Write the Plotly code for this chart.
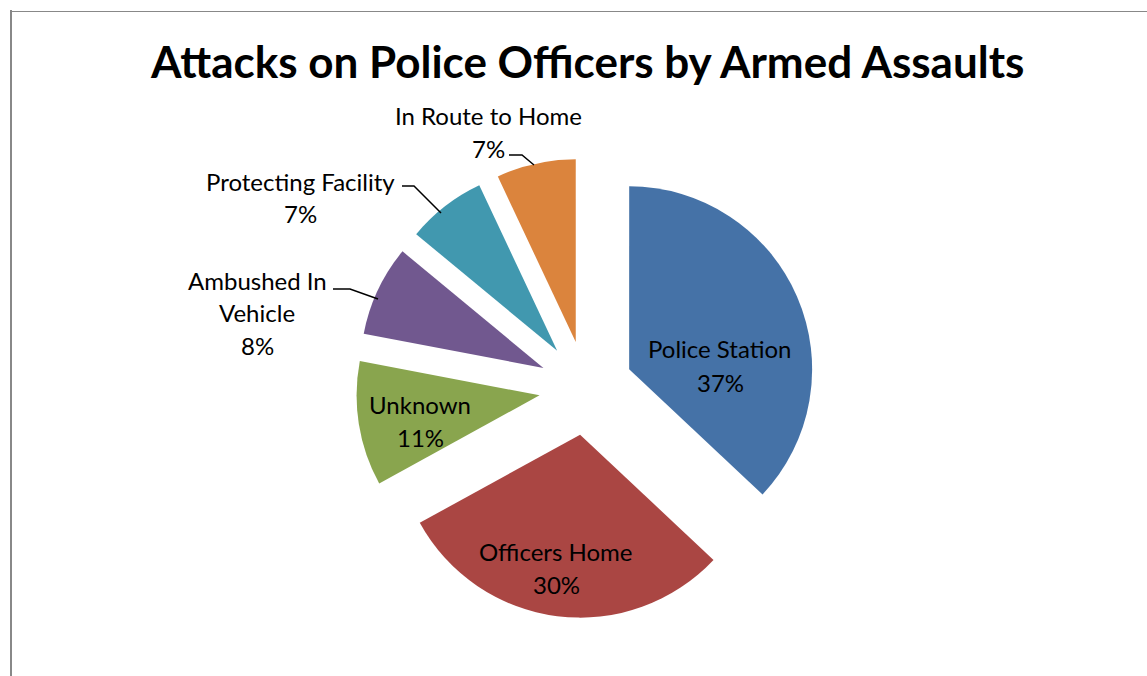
import plotly.graph_objects as go

W, H = 1147, 676

categories = ["Police Station", "Officers Home", "Unknown", "Ambushed In Vehicle",
              "Protecting Facility", "In Route to Home"]
values = [37, 30, 11, 8, 7, 7]
colors = ["#4572A7", "#AA4643", "#89A54E", "#71588F", "#4198AF", "#DB843D"]
title_text = "Attacks on Police Officers by Armed Assaults"

# label lines (text, center x px, center y px)
label_lines = [
    ("Police Station", 720, 348), ("37%", 720, 382),
    ("Officers Home", 556, 551), ("30%", 556, 584),
    ("Unknown", 420, 404), ("11%", 420, 437),
    ("Ambushed In", 257, 280), ("Vehicle", 257, 312), ("8%", 257, 346),
    ("Protecting Facility", 300, 182), ("7%", 300, 213),
    ("In Route to Home", 488, 116), ("7%", 488, 148),
]
leaders = [
    [(509, 155), (522, 155), (534, 165)],
    [(402, 186), (414, 186), (441, 213)],
    [(333, 289), (350, 289), (378, 299)],
]


def px(x):
    return x / W


def py(y):
    return 1 - y / H


fig = go.Figure(go.Pie(
    labels=categories, values=values, sort=False, direction="clockwise",
    rotation=0, pull=[0.257] * len(values),
    marker=dict(colors=colors, line=dict(width=0)),
    textinfo="none", hoverinfo="label+percent", showlegend=False,
    domain=dict(x=[px(356), px(816)], y=[py(618), py(158)]),
))

annotations = [dict(text="<b>" + title_text + "</b>", x=px(587), y=py(61),
                    xref="paper", yref="paper", showarrow=False,
                    font=dict(family="Lato", size=44, color="black"),
                    xanchor="center", yanchor="middle")]
for t, x, y in label_lines:
    annotations.append(dict(text=t, x=px(x), y=py(y), xref="paper", yref="paper",
                            showarrow=False, xanchor="center", yanchor="middle",
                            font=dict(family="Lato", size=24, color="black")))

shapes = []
for pts in leaders:
    path = "M " + " L ".join(f"{px(x)},{py(y)}" for x, y in pts)
    shapes.append(dict(type="path", path=path, xref="paper", yref="paper",
                       line=dict(color="black", width=1.5)))
# chart border (top and left visible)
shapes.append(dict(type="line", xref="paper", yref="paper", x0=px(11), x1=px(11),
                   y0=py(10), y1=py(H + 5), line=dict(color="#888888", width=2)))
shapes.append(dict(type="line", xref="paper", yref="paper", x0=px(10), x1=px(W + 5),
                   y0=py(11.5), y1=py(11.5), line=dict(color="#888888", width=1)))

fig.update_layout(width=W, height=H, margin=dict(l=0, r=0, t=0, b=0),
                  paper_bgcolor="white", plot_bgcolor="white",
                  annotations=annotations, shapes=shapes)

fig.write_html("out.html")
